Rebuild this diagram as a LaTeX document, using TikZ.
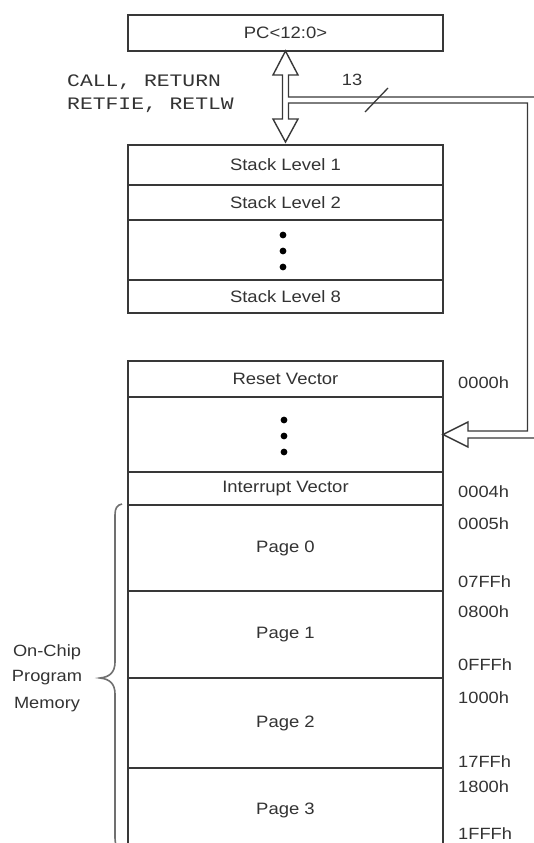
\documentclass[tikz,border=0pt]{standalone}
\usepackage{fontspec}
\setmainfont{Liberation Sans}[FakeStretch=1.12]
\newfontfamily\courfont{Liberation Mono}[FakeStretch=1.22]
\usetikzlibrary{calc}
\definecolor{ln}{HTML}{383838}
\definecolor{tx}{HTML}{333333}
\definecolor{brc}{HTML}{707070}
\begin{document}
\begin{tikzpicture}[x=1pt,y=-1pt,
  box/.style={draw=ln,line width=1.5pt,minimum width=315pt,inner sep=0pt,outer sep=0pt,
    text=tx,font=\fontsize{16.5}{18}\selectfont},
  addr/.style={anchor=west,inner sep=0pt,text=tx,font=\fontsize{16.3}{18}\selectfont},
  lbl/.style={inner sep=0pt,text=tx,font=\fontsize{16.3}{18}\selectfont},
  cour/.style={anchor=west,inner sep=0pt,text=tx,font=\courfont\fontsize{17.5}{19}\selectfont},
  dotm/.style={circle,fill=black,inner sep=0pt,minimum size=6.8pt},
  hollow/.style={draw=ln,line width=1.4pt,line join=miter},
  brace/.style={draw=brc,line width=1.6pt}]
\useasboundingbox (0,0) rectangle (534,843);
\fill[white] (0,0) rectangle (534,843);
\clip (0,0) rectangle (534,843);

% PC register
\node[box,minimum height=36pt] (pc) at (285.5,33) {PC<12:0>};

% Stack
\node[box,minimum height=40pt] (s1) at (285.5,165) {Stack Level 1};
\node[box,minimum height=35pt] (s2) at (285.5,202.5) {Stack Level 2};
\node[box,minimum height=60pt] (sd) at (285.5,250) {};
\node[box,minimum height=33pt] (s8) at (285.5,296.5) {Stack Level 8};
\node[dotm] (sd1) at (283,235) {};
\node[dotm] (sd2) at (283,251) {};
\node[dotm] (sd3) at (283,267) {};

% Program memory
\node[box,minimum height=36pt] (rv) at (285.5,379) {Reset Vector};
\node[box,minimum height=75pt] (md) at (285.5,434.5) {};
\node[box,minimum height=33pt] (iv) at (285.5,488.5) {Interrupt Vector};
\node[box,minimum height=86pt] (p0) at (285.5,548) {Page 0};
\node[box,minimum height=87pt] (p1) at (285.5,634.5) {Page 1};
\node[box,minimum height=90pt] (p2) at (285.5,723) {Page 2};
\node[box,minimum height=84pt] (p3) at (285.5,810) {Page 3};
\node[dotm] (md1) at (284,420) {};
\node[dotm] (md2) at (284,436) {};
\node[dotm] (md3) at (284,452) {};

% addresses
\node[addr] (a0) at (458,383) {0000h};
\node[addr] (a4) at (458,492) {0004h};
\node[addr] (a5) at (458,524) {0005h};
\node[addr] (a7ff) at (458,582) {07FFh};
\node[addr] (a800) at (458,612) {0800h};
\node[addr] (afff) at (458,665) {0FFFh};
\node[addr] (a1000) at (458,698) {1000h};
\node[addr] (a17ff) at (458,762) {17FFh};
\node[addr] (a1800) at (458,787) {1800h};
\node[addr] (a1fff) at (458,834) {1FFFh};

% instruction labels
\node[cour] (call) at (67,82) {CALL, RETURN};
\node[cour] (retf) at (67,105) {RETFIE, RETLW};
\node[lbl] (n13) at (352,80) {13};

% hollow double arrow and bus
\coordinate (tt) at (pc.south);
\coordinate (tb) at ($(s1.north)+(0,-3)$);
\coordinate (ti) at (md.east);
\draw[hollow]
  (tt) -- ($(tt)+(12.5,24)$) -- ($(tt)+(3,24)$) -- ($(tt)+(3,46)$)
  -- ($(ti)+(94,-337.5)$) -- ($(ti)+(94,3.5)$) -- ($(ti)+(25,3.5)$)
  -- ($(ti)+(25,12.5)$) -- (ti) -- ($(ti)+(25,-12.5)$) -- ($(ti)+(25,-3.5)$)
  -- ($(ti)+(84.5,-3.5)$) -- ($(ti)+(84.5,-331.5)$) -- ($(tt)+(3,52)$)
  -- ($(tb)+(3,-23)$) -- ($(tb)+(12.5,-23)$) -- (tb) -- ($(tb)+(-12.5,-23)$)
  -- ($(tb)+(-3,-23)$) -- ($(tt)+(-3,24)$) -- ($(tt)+(-12.5,24)$) -- cycle;

% bus width mark
\coordinate (sl1) at (365,112);
\coordinate (sl2) at (388,88);
\draw[draw=ln,line width=1.3pt] (sl1) -- (sl2);

% brace
\draw[brace] (122,504) .. controls (117,505) and (115,508) .. (115,515) -- (115,662)
  .. controls (115,672) and (110,677) .. (100,678)
  .. controls (110,679) and (115,684) .. (115,694) -- (115,838)
  .. controls (115,845) and (117,848) .. (122,849);
\node[lbl] (oc1) at (47,652) {On-Chip};
\node[lbl] (oc2) at (47,678) {Program};
\node[lbl] (oc3) at (47,705) {Memory};
\end{tikzpicture}
\end{document}
